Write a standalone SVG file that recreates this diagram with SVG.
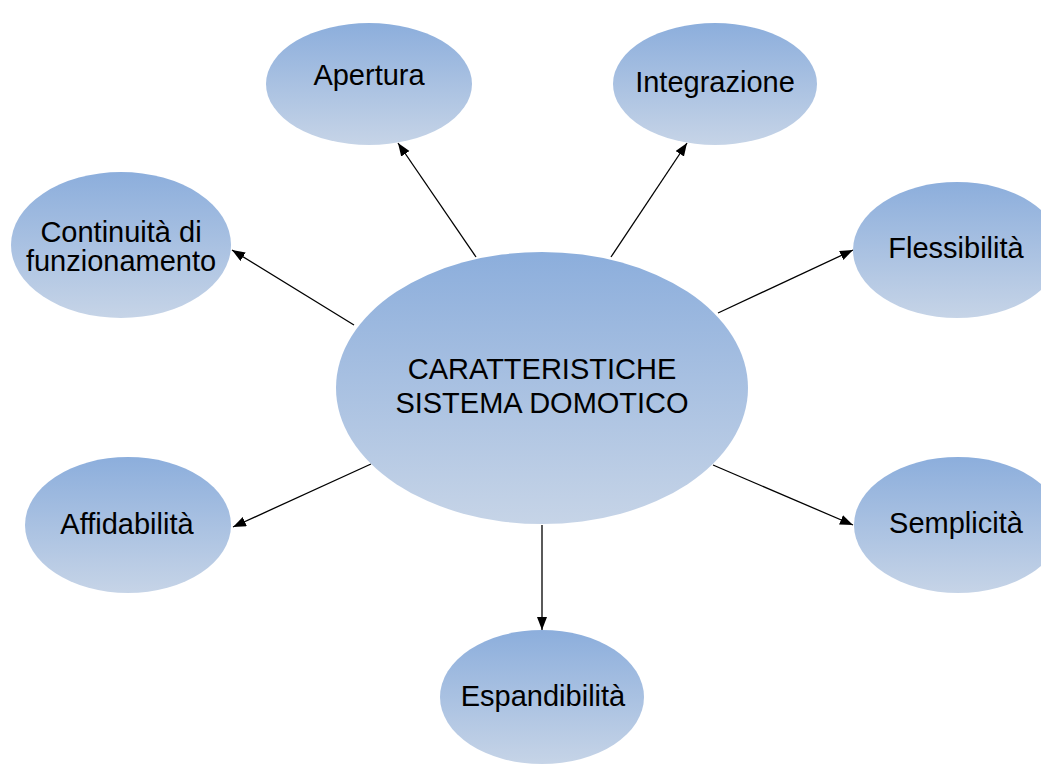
<svg xmlns="http://www.w3.org/2000/svg" width="1041" height="764" viewBox="0 0 1041 764">
<style>
.n{fill:url(#g)}
.t{font-family:"Liberation Sans",Arial,sans-serif;font-size:29px;fill:#000;text-anchor:middle}
.c{stroke:#000;stroke-width:1.3;fill:none;marker-end:url(#a)}
</style>
<defs>
<linearGradient id="g" x1="0" y1="0" x2="0" y2="1">
<stop offset="0" stop-color="#8caedc"/>
<stop offset="1" stop-color="#c6d4e7"/>
</linearGradient>
<marker id="a" markerUnits="userSpaceOnUse" markerWidth="14" markerHeight="12" refX="13" refY="5" orient="auto" viewBox="0 0 14 12">
<path d="M0,0 L13,5 L0,10 z" fill="#000"/>
</marker>
</defs>
<rect width="1041" height="764" fill="#fff"/>
<g id="connectors">
<line class="c" x1="476" y1="257" x2="398" y2="143"/>
<line class="c" x1="611" y1="257" x2="687" y2="143"/>
<line class="c" x1="354" y1="325" x2="232" y2="250"/>
<line class="c" x1="718" y1="313" x2="853" y2="250"/>
<line class="c" x1="371" y1="464" x2="233" y2="527"/>
<line class="c" x1="713" y1="465" x2="853" y2="525"/>
<line class="c" x1="542" y1="525" x2="542" y2="630"/>
</g>
<g id="center">
<ellipse class="n" cx="542" cy="388" rx="206" ry="136"/>
<text class="t" x="542" y="379">CARATTERISTICHE</text>
<text class="t" x="542" y="413">SISTEMA DOMOTICO</text>
</g>
<g id="apertura">
<ellipse class="n" cx="369" cy="84" rx="103" ry="61"/>
<text class="t" x="369" y="85">Apertura</text>
</g>
<g id="integrazione">
<ellipse class="n" cx="715" cy="84" rx="102" ry="61"/>
<text class="t" x="715" y="92">Integrazione</text>
</g>
<g id="continuita">
<ellipse class="n" cx="121" cy="245" rx="110" ry="73"/>
<text class="t" x="121" y="242">Continuità di</text>
<text class="t" x="121" y="271">funzionamento</text>
</g>
<g id="flessibilita">
<ellipse class="n" cx="957" cy="250" rx="104" ry="68"/>
<text class="t" x="956" y="258">Flessibilità</text>
</g>
<g id="affidabilita">
<ellipse class="n" cx="128" cy="525" rx="103" ry="68"/>
<text class="t" x="127" y="534">Affidabilità</text>
</g>
<g id="semplicita">
<ellipse class="n" cx="958" cy="525" rx="104" ry="68"/>
<text class="t" x="956" y="533">Semplicità</text>
</g>
<g id="espandibilita">
<ellipse class="n" cx="542" cy="697" rx="102" ry="67"/>
<text class="t" x="543" y="706">Espandibilità</text>
</g>
</svg>
